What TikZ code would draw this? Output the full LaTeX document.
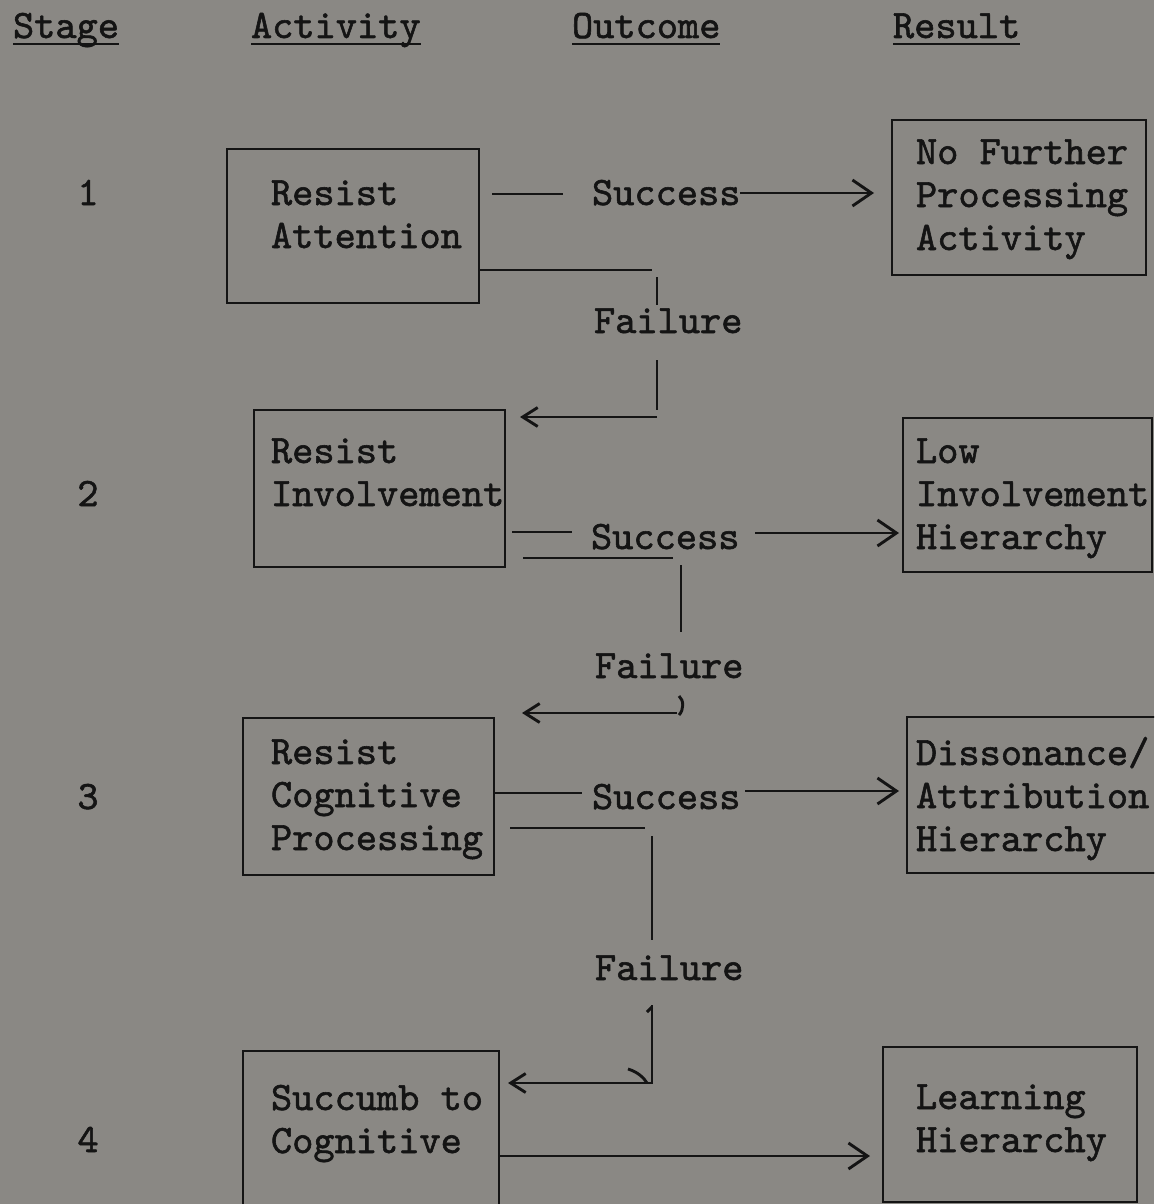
\documentclass[tikz,border=0pt]{standalone}
\usepackage{fontspec}
\setmonofont[FakeBold=1.4]{lmmono10-regular.otf}
\usetikzlibrary{arrows.meta}
\definecolor{paper}{RGB}{138,136,132}
\definecolor{ink}{RGB}{20,20,20}
\begin{document}
\begin{tikzpicture}[x=1pt,y=-1pt,
  every node/.style={inner sep=0pt,outer sep=0pt,text=ink},
  tw/.style={font=\fontsize{40.4}{43}\selectfont\ttfamily},
  lbl/.style={tw,anchor=base west},
  num/.style={tw,anchor=base},
  blk/.style={tw,anchor=north west,align=left},
  frame/.style={draw=ink,line width=2.9pt,anchor=north west},
  wire/.style={draw=ink,line width=2.9pt},
  ul/.style={draw=ink,line width=2.4pt},
  arrowR/.style={-{Straight Barb[length=19pt,width=26pt]}},
  arrowL/.style={-{Straight Barb[length=15pt,width=19pt]}}
]
\useasboundingbox (0,0) rectangle (1154,1204);
\clip (0,0) rectangle (1154,1204);
\fill[paper] (0,0) rectangle (1154,1204);

% column headings
\node[lbl] (h1) at (13,38)  {Stage};
\node[lbl] (h2) at (251,38) {Activity};
\node[lbl] (h3) at (572,38) {Outcome};
\node[lbl] (h4) at (893,38) {Result};
\foreach \h in {h1,h2,h3,h4}
  \draw[ul] ([yshift=-6pt]\h.base west) -- ([yshift=-6pt]\h.base east);

% stage numbers
\node[num] (n1) at (88,205)  {1};
\node[num] (n2) at (88,506)  {2};
\node[num] (n3) at (88,809)  {3};
\node[num] (n4) at (88,1152) {4};

% activity boxes
\node[frame,minimum width=252pt,minimum height=154pt] (a1) at (227,149)  {};
\node[frame,minimum width=251pt,minimum height=157pt] (a2) at (254,410)  {};
\node[frame,minimum width=251pt,minimum height=157pt] (a3) at (243,718)  {};
\node[frame,minimum width=256pt,minimum height=200pt] (a4) at (243,1051) {};
\node[blk] (t1) at (271,175)  {\rule{0pt}{30pt}Resist\\Attention};
\node[blk] (t2) at (271,433)  {\rule{0pt}{30pt}Resist\\Involvement};
\node[blk] (t3) at (271,734)  {\rule{0pt}{30pt}Resist\\Cognitive\\Processing};
\node[blk] (t4) at (271,1080) {\rule{0pt}{30pt}Succumb to\\Cognitive};

% result boxes
\node[frame,minimum width=254pt,minimum height=155pt] (r1) at (892,120)  {};
\node[frame,minimum width=249pt,minimum height=154pt] (r2) at (903,418)  {};
\node[frame,minimum width=300pt,minimum height=156pt] (r3) at (907,717)  {};
\node[frame,minimum width=254pt,minimum height=155pt] (r4) at (883,1047) {};
\node[blk] (u1) at (916,134)  {\rule{0pt}{30pt}No Further\\Processing\\Activity};
\node[blk] (u2) at (916,433)  {\rule{0pt}{30pt}Low\\Involvement\\Hierarchy};
\node[blk] (u3) at (916,735)  {\rule{0pt}{30pt}Dissonance/\\Attribution\\Hierarchy};
\node[blk] (u4) at (916,1079) {\rule{0pt}{30pt}Learning\\Hierarchy};

% outcome labels
\node[lbl] (s1) at (592,205) {Success};
\node[lbl] (f1) at (594,333) {Failure};
\node[lbl] (s2) at (591,549) {Success};
\node[lbl] (f2) at (595,678) {Failure};
\node[lbl] (s3) at (592,809) {Success};
\node[lbl] (f3) at (595,980) {Failure};

% stage 1
\draw[wire] ([xshift=13pt]a1.east |- 0,194) -- ([xshift=-29pt]s1.west |- 0,194);
\draw[wire,arrowR] (s1.east |- 0,193) -- ([xshift=-18pt]r1.west |- 0,193);
\draw[wire] (a1.east |- 0,270) -- (652,270);
\draw[wire] (657,277) -- (657,305);
\draw[wire] (657,360) -- (657,410);
\draw[wire,arrowL] (657,417) -- ([xshift=15pt]a2.east |- 0,417);

% stage 2
\draw[wire] ([xshift=7pt]a2.east |- 0,532) -- (572,532);
\draw[wire,arrowR] (755,533) -- ([xshift=-4pt]r2.west |- 0,533);
\draw[wire] (523,558) -- (673,558);
\draw[wire] (681,565) -- (681,632);
\draw[wire,arrowL] (677,713) -- ([xshift=28pt]a3.east |- 0,713);
\draw[wire] (679,696) .. controls (684,700) and (684,710) .. (679,715);

% stage 3
\draw[wire] (a3.east |- 0,793) -- (582,793);
\draw[wire,arrowR] (745,791) -- ([xshift=-8pt]r3.west |- 0,791);
\draw[wire] (510,828) -- (645,828);
\draw[wire] (652,836) -- (652,940);
\draw[wire] (647,1012) -- (652,1007);
\draw[wire,arrowL] (652,1005) -- (652,1083) -- ([xshift=9pt]a4.east |- 0,1083);
\draw[wire] (628,1069) .. controls (638,1072) and (644,1078) .. (647,1083);

% stage 4
\draw[wire,arrowR] (a4.east |- 0,1156) -- ([xshift=-13pt]r4.west |- 0,1156);
\end{tikzpicture}
\end{document}
